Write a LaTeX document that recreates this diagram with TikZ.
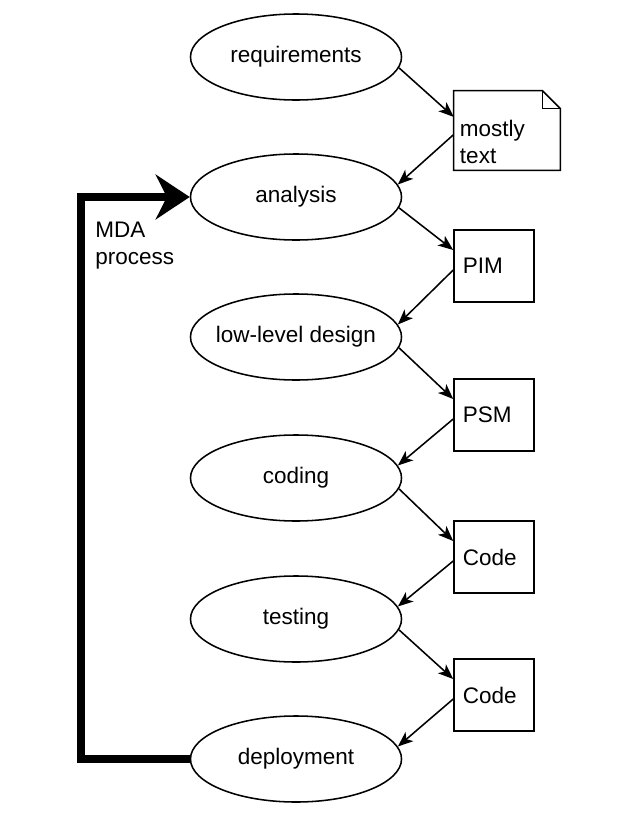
\documentclass[tikz,border=0pt]{standalone}
\usepackage{fontspec}
\setmainfont{Liberation Sans}
\usetikzlibrary{shapes.geometric,arrows.meta}

\begin{document}
\begin{tikzpicture}[x=0.025cm,y=-0.025cm,
	every node/.style={font=\fontsize{16}{19}\selectfont},
	activity/.style={ellipse, draw, line width=1.1pt, minimum width=5.275cm, minimum height=2.15cm, inner sep=0pt},
	artefact/.style={rectangle, draw, line width=1.1pt, minimum width=2cm, minimum height=1.8cm, inner xsep=0.22cm, text width=1.56cm, align=left},
	flow/.style={-{Stealth[length=0.38cm,width=0.3cm,inset=0.1cm]}, line width=1.1pt},
	loop/.style={-{Stealth[length=0.85cm,width=1.12cm,inset=0.28cm]}, line width=5.6pt}]
	\useasboundingbox (0,0) rectangle (617,823);

	\node[activity] (req) at (296, 57) {requirements};
	\node[activity] (ana) at (296, 197) {analysis};
	\node[activity] (des) at (296, 337) {\makebox[0pt]{low-level design}};
	\node[activity] (cod) at (296, 478) {coding};
	\node[activity] (tst) at (296, 619) {testing};
	\node[activity] (dep) at (296, 759) {deployment};

	\node[rectangle, minimum width=2.65cm, minimum height=1.98cm] (doc) at (507, 130.5) {};
	\draw[line width=1.1pt] (doc.north west) -- ([xshift=-0.45cm]doc.north east) -- ([yshift=-0.45cm]doc.north east) -- (doc.south east) -- (doc.south west) -- cycle;
	\draw[line width=1.1pt] ([xshift=-0.45cm]doc.north east) -- ([xshift=-0.45cm,yshift=-0.45cm]doc.north east) -- ([yshift=-0.45cm]doc.north east);
	\node[anchor=west, align=left, inner xsep=0.15cm] (doctext) at ([yshift=-0.28cm]doc.west) {mostly\\text};

	\node[artefact] (pim) at (494, 266) {PIM};
	\node[artefact] (psm) at (494, 415) {PSM};
	\node[artefact] (code1) at (494, 557) {Code};
	\node[artefact] (code2) at (494, 695) {Code};

	\node[anchor=north west, align=left, inner sep=0pt] (mda) at (95, 222) {MDA\\process};
	\coordinate (side) at (81, 0);

	\draw[flow] (req.-6) -- ([yshift=0.34cm]doc.west);
	\draw[flow] ([yshift=-0.1cm]doc.west) -- (ana.7);
	\draw[flow] (ana.-6) -- ([yshift=0.4cm]pim.west);
	\draw[flow] ([yshift=-0.1cm]pim.west) -- (des.7);
	\draw[flow] (des.-6) -- ([yshift=0.4cm]psm.west);
	\draw[flow] ([yshift=-0.1cm]psm.west) -- (cod.7);
	\draw[flow] (cod.-6) -- ([yshift=0.4cm]code1.west);
	\draw[flow] ([yshift=-0.1cm]code1.west) -- (tst.7);
	\draw[flow] (tst.-6) -- ([yshift=0.4cm]code2.west);
	\draw[flow] ([yshift=-0.1cm]code2.west) -- (dep.7);

	\draw[loop] (dep.west) -- (dep.west -| side) -- (ana.west -| side) -- (ana.west);
\end{tikzpicture}
\end{document}
